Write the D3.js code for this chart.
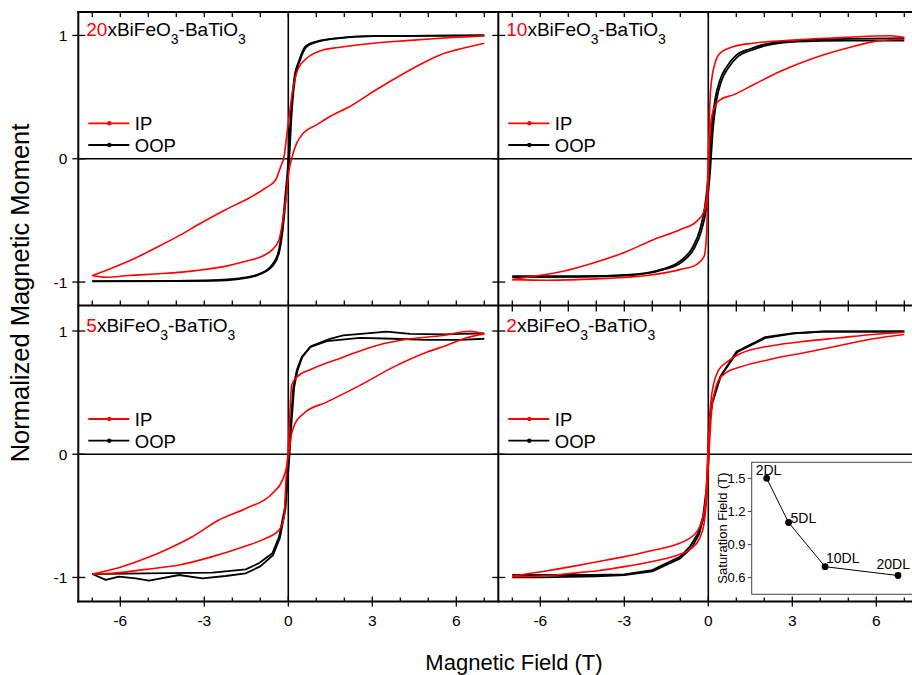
<!DOCTYPE html>
<html><head><meta charset="utf-8">
<script src="https://cdn.jsdelivr.net/npm/d3@7"></script>
<style>body{margin:0;background:#fff} svg{display:block;font-family:"Liberation Sans",Arial,sans-serif}</style>
</head><body><svg id="c" width="912" height="675"></svg>
<script>
// ---------- DATA ([field (T), normalized moment]) ----------
const ip20Desc = [[-7,-0.947],[-6.29,-0.885],[-5.45,-0.804],[-4.62,-0.71],[-3.9,-0.623],[-3.07,-0.515],[-2.24,-0.413],[-1.4,-0.318],[-0.81,-0.237],[-0.45,-0.17],[-0.27,-0.062],[-0.15,0.02],[-0.05,0.2],[0.06,0.40],[0.18,0.585],[0.36,0.734],[0.66,0.815],[1.25,0.883],[1.85,0.904],[3.04,0.937],[4.23,0.958],[5.42,0.977],[7,0.996]];
const ip20Asc = [[-7,-0.947],[-6.52,-0.961],[-5.69,-0.947],[-4.5,-0.931],[-3.31,-0.907],[-2.36,-0.877],[-1.52,-0.831],[-0.93,-0.791],[-0.57,-0.737],[-0.33,-0.656],[-0.21,-0.52],[-0.09,-0.33],[0.03,-0.09],[0.14,0.02],[0.3,0.127],[0.54,0.208],[1.01,0.275],[1.49,0.343],[2.2,0.424],[3.04,0.545],[3.63,0.626],[4.46,0.734],[5.42,0.842],[6.01,0.883],[7,0.937]];
const oop20Desc = [[-7,-0.993],[-4,-0.99],[-2.71,-0.985],[-1.76,-0.97],[-1.05,-0.935],[-0.6,-0.865],[-0.36,-0.76],[-0.24,-0.6],[-0.12,-0.33],[0,-0.01],[0.1,0.4],[0.21,0.65],[0.39,0.8],[0.63,0.915],[1,0.95],[1.85,0.98],[3,0.995],[7,1.0]];
const oop20Asc = [[-7,-0.995],[-4,-0.992],[-2.71,-0.99],[-1.76,-0.975],[-1.05,-0.94],[-0.57,-0.872],[-0.33,-0.764],[-0.21,-0.6],[-0.09,-0.33],[0.03,-0.01],[0.13,0.4],[0.24,0.65],[0.42,0.8],[0.66,0.91],[1,0.945],[1.85,0.978],[3,0.995],[7,1.0]];

const ip10Desc = [[-7,-0.98],[-6.25,-0.953],[-5.18,-0.912],[-4.11,-0.845],[-3.04,-0.764],[-1.96,-0.656],[-1.01,-0.575],[-0.42,-0.508],[-0.18,-0.44],[-0.06,-0.33],[0,-0.01],[0.06,0.478],[0.12,0.64],[0.24,0.775],[0.42,0.856],[0.89,0.909],[1.61,0.937],[3.16,0.964],[4.94,0.985],[6.49,0.998],[7,0.985]];
const ip10Asc = [[-7,-0.98],[-5.77,-0.985],[-3.98,-0.974],[-2.2,-0.947],[-1.01,-0.899],[-0.42,-0.858],[-0.15,-0.791],[-0.06,-0.6],[0,-0.116],[0.06,0.208],[0.18,0.397],[0.42,0.478],[0.89,0.518],[1.61,0.6],[2.56,0.707],[3.75,0.815],[4.94,0.896],[6.13,0.958],[7,0.969]];
const oop10Desc = [[-7,-0.953],[-4.58,-0.953],[-2.8,-0.94],[-1.61,-0.893],[-1.01,-0.831],[-0.54,-0.71],[-0.3,-0.575],[-0.12,-0.386],[0,-0.143],[0.12,0.262],[0.24,0.478],[0.42,0.64],[0.66,0.747],[1.01,0.842],[1.49,0.89],[1.96,0.925],[3.16,0.96],[5,0.972],[7,0.977]];
const oop10Asc = [[-7,-0.96],[-4.58,-0.957],[-2.8,-0.945],[-1.61,-0.9],[-0.96,-0.84],[-0.49,-0.72],[-0.25,-0.585],[-0.07,-0.4],[0.05,-0.15],[0.17,0.25],[0.29,0.47],[0.47,0.63],[0.71,0.735],[1.06,0.83],[1.54,0.88],[2,0.915],[3.2,0.95],[5,0.958],[7,0.958]];

const ip5Desc = [[-7,-0.972],[-6.05,-0.921],[-5.09,-0.845],[-4.38,-0.777],[-3.43,-0.67],[-2.48,-0.534],[-1.52,-0.44],[-0.57,-0.318],[-0.21,-0.21],[-0.04,-0.075],[0.06,0.356],[0.12,0.559],[0.3,0.626],[0.78,0.686],[1.96,0.788],[3.16,0.883],[4.35,0.937],[5.54,0.964],[6.49,0.998],[7,0.977]];
const ip5Asc = [[-7,-0.972],[-6.29,-0.966],[-5.09,-0.934],[-3.9,-0.899],[-2.71,-0.831],[-1.52,-0.745],[-0.81,-0.683],[-0.33,-0.615],[-0.15,-0.508],[-0.07,-0.156],[0.06,0.087],[0.12,0.167],[0.24,0.248],[0.54,0.329],[1.37,0.423],[2.56,0.559],[3.75,0.707],[4.94,0.828],[5.65,0.883],[6.37,0.945],[7,0.977]];
const oop5Desc = [[-7,-0.972],[-5.09,-0.966],[-2.71,-0.961],[-1.52,-0.934],[-1.05,-0.885],[-0.57,-0.804],[-0.33,-0.67],[-0.12,-0.43],[-0.04,-0.156],[0,-0.05],[0.09,0.275],[0.18,0.545],[0.3,0.68],[0.48,0.788],[0.78,0.869],[1.37,0.918],[2.56,0.945],[3.75,0.937],[4.94,0.928],[6.13,0.928],[7,0.937]];
const oop5Asc = [[-7,-0.972],[-6.52,-1.02],[-6.05,-0.993],[-5.45,-1.007],[-4.97,-1.026],[-3.9,-0.98],[-3.07,-1.007],[-2.24,-0.988],[-1.52,-0.966],[-1,-0.91],[-0.55,-0.82],[-0.3,-0.68],[-0.1,-0.44],[-0.01,-0.16],[0.03,-0.05],[0.12,0.275],[0.21,0.545],[0.33,0.68],[0.5,0.79],[0.8,0.875],[1.49,0.937],[1.96,0.964],[2.91,0.982],[3.51,0.995],[4.35,0.977],[5.54,0.972],[6.13,0.977],[7,0.98]];

const ip2Desc = [[-7,-0.988],[-5.96,-0.953],[-4.89,-0.912],[-3.94,-0.872],[-2.99,-0.831],[-2.04,-0.783],[-1.2,-0.737],[-0.73,-0.691],[-0.37,-0.615],[-0.19,-0.508],[-0.07,-0.29],[-0.02,0],[0.03,0.22],[0.08,0.4],[0.18,0.56],[0.36,0.68],[0.66,0.747],[1.13,0.815],[2.32,0.883],[3.51,0.918],[4.7,0.945],[5.89,0.972],[7,0.99]];
const ip2Asc = [[-7,-0.993],[-5.96,-0.988],[-4.89,-0.966],[-3.94,-0.945],[-2.99,-0.912],[-2.04,-0.872],[-1.2,-0.826],[-0.61,-0.764],[-0.31,-0.683],[-0.15,-0.561],[-0.04,-0.29],[0.02,0],[0.06,0.16],[0.12,0.356],[0.24,0.518],[0.36,0.599],[0.66,0.666],[1.13,0.707],[2.32,0.775],[3.51,0.828],[4.7,0.883],[5.89,0.937],[7,0.972]];
const oop2Desc = [[-7,-0.98],[-6,-0.98],[-5,-0.98],[-4,-0.98],[-3,-0.975],[-2,-0.94],[-1,-0.83],[-0.66,-0.75],[-0.37,-0.642],[-0.19,-0.508],[-0.07,-0.29],[0,0],[0.02,0.275],[0.12,0.41],[0.42,0.626],[1.01,0.834],[2.03,0.95],[3.04,0.982],[4.11,0.996],[7,0.996]];
const oop2Asc = [[-7,-1.0],[-6,-1.0],[-5,-0.995],[-4,-0.99],[-3,-0.98],[-2,-0.95],[-1,-0.845],[-0.6,-0.76],[-0.33,-0.65],[-0.16,-0.51],[-0.05,-0.29],[0.02,0],[0.05,0.275],[0.15,0.42],[0.45,0.635],[1.04,0.83],[2.06,0.945],[3.07,0.98],[4.11,0.995],[7,0.996]];

const panelNumbers = ["20","10","5","2"];
const ipSeries  = [[ip20Desc, ip20Asc],[ip10Desc, ip10Asc],[ip5Desc, ip5Asc],[ip2Desc, ip2Asc]];
const oopSeries = [[oop20Desc, oop20Asc],[oop10Desc, oop10Asc],[oop5Desc, oop5Asc],[oop2Desc, oop2Asc]];
const legendNames = ["IP","OOP"];
const xTickLabels = [-6,-3,0,3,6];
const xTickMinor = [-7,-6,-5,-4,-3,-2,-1,0,1,2,3,4,5,6,7];
const yTickValues = [-1,0,1];

const insetLayers = [2,5,10,20];
const insetSatField = [1.5,1.1,0.7,0.62];
const insetLabels = ["2DL","5DL","10DL","20DL"];
const insetYTicks = [0.6,0.9,1.2,1.5];

// ---------- LAYOUT ----------
const RED = "#ff0000";
const svg = d3.select("#c");
const layout = [
  {xr:[78.3,498.3], yr:[305.5,12], yd:[-1.19,1.19], col:0, row:0},
  {xr:[498.3,918.3], yr:[305.5,12], yd:[-1.19,1.19], col:1, row:0},
  {xr:[78.3,498.3], yr:[601.5,305.5], yd:[-1.195,1.207], col:0, row:1},
  {xr:[498.3,918.3], yr:[601.5,305.5], yd:[-1.195,1.207], col:1, row:1}
];
const straightOOP = [false,false,true,true];

layout.forEach((L, i) => {
  const x = d3.scaleLinear().domain([-7.5,7.5]).range(L.xr);
  const y = d3.scaleLinear().domain(L.yd).range(L.yr);
  const g = svg.append("g");
  const clipId = "clip"+i;
  svg.append("clipPath").attr("id",clipId).append("rect")
    .attr("x",L.xr[0]).attr("y",L.yr[1]).attr("width",L.xr[1]-L.xr[0]).attr("height",L.yr[0]-L.yr[1]);

  g.append("line").attr("x1",L.xr[0]).attr("x2",L.xr[1]).attr("y1",y(0)).attr("y2",y(0))
    .attr("stroke","#000").attr("stroke-width",1.6);
  g.append("line").attr("x1",x(0)).attr("x2",x(0)).attr("y1",L.yr[0]).attr("y2",L.yr[1])
    .attr("stroke","#000").attr("stroke-width",1.6);

  const cg = g.append("g").attr("clip-path",`url(#${clipId})`);
  const lineSmooth = d3.line().x(d=>x(d[0])).y(d=>y(d[1])).curve(d3.curveMonotoneX);
  const lineStraight = d3.line().x(d=>x(d[0])).y(d=>y(d[1]));
  oopSeries[i].forEach(br => {
    cg.append("path").attr("d",(straightOOP[i]?lineStraight:lineSmooth)(br))
      .attr("fill","none").attr("stroke","#000").attr("stroke-width",1.8).attr("stroke-linejoin","round");
  });
  ipSeries[i].forEach(br => {
    cg.append("path").attr("d",lineSmooth(br))
      .attr("fill","none").attr("stroke",RED).attr("stroke-width",1.6).attr("stroke-linejoin","round");
  });

  const isTop = L.row===0;
  xTickMinor.forEach(v => {
    const major = xTickLabels.includes(v);
    if (isTop) {
      g.append("line").attr("x1",x(v)).attr("x2",x(v)).attr("y1",L.yr[1]).attr("y2",L.yr[1]+5).attr("stroke","#000").attr("stroke-width",1.3);
      g.append("line").attr("x1",x(v)).attr("x2",x(v)).attr("y1",L.yr[0]-5).attr("y2",L.yr[0]).attr("stroke","#000").attr("stroke-width",1.3);
    } else {
      if (L.col===1) g.append("line").attr("x1",x(v)).attr("x2",x(v)).attr("y1",L.yr[1]).attr("y2",L.yr[1]+6).attr("stroke","#000").attr("stroke-width",1.3);
      g.append("line").attr("x1",x(v)).attr("x2",x(v)).attr("y1",L.yr[0]-(major?5:4)).attr("y2",L.yr[0]+(major?5:0)).attr("stroke","#000").attr("stroke-width",1.3);
    }
  });
  if (!isTop) {
    xTickLabels.forEach(v => {
      g.append("text").attr("x",x(v)).attr("y",L.yr[0]+24).attr("text-anchor","middle")
        .attr("font-size",15.5).text(v);
    });
  }
  yTickValues.forEach(v => {
    g.append("line").attr("x1",L.xr[0]-6).attr("x2",L.xr[0]+7).attr("y1",y(v)).attr("y2",y(v)).attr("stroke","#000").attr("stroke-width",1.3);
    if (L.col===0) {
      g.append("text").attr("x",L.xr[0]-11).attr("y",y(v)+5.5).attr("text-anchor","end")
        .attr("font-size",15.5).text(v);
    }
  });

  const t = g.append("text").attr("x",L.xr[0]+8).attr("y",L.yr[1]+(isTop?24:26)).attr("font-size",19);
  t.append("tspan").attr("fill",RED).text(panelNumbers[i]);
  t.append("tspan").text("xBiFeO");
  t.append("tspan").attr("font-size",14).attr("dy",8).text("3");
  t.append("tspan").attr("dy",-8).text("-BaTiO");
  t.append("tspan").attr("font-size",14).attr("dy",8).text("3");

  const ly0 = L.yr[1] + (isTop?111.3:113.5);
  legendNames.forEach((nm, k) => {
    const ly = ly0 + k*21.7;
    const col = k===0?RED:"#000";
    g.append("line").attr("x1",L.xr[0]+10).attr("x2",L.xr[0]+51).attr("y1",ly).attr("y2",ly)
      .attr("stroke",col).attr("stroke-width",1.8);
    g.append("circle").attr("cx",L.xr[0]+31).attr("cy",ly).attr("r",2.2).attr("fill",col);
    g.append("text").attr("x",L.xr[0]+56.5).attr("y",ly+6.8).attr("font-size",18.5).text(nm);
  });
});

const frame = svg.append("g").attr("stroke","#000").attr("stroke-width",2).attr("fill","none");
frame.append("line").attr("x1",78.3).attr("x2",78.3).attr("y1",11).attr("y2",602.5);
frame.append("line").attr("x1",498.3).attr("x2",498.3).attr("y1",11).attr("y2",602.5);
frame.append("line").attr("x1",77.3).attr("x2",912).attr("y1",12).attr("y2",12);
frame.append("line").attr("x1",77.3).attr("x2",912).attr("y1",305.5).attr("y2",305.5);
frame.append("line").attr("x1",77.3).attr("x2",912).attr("y1",601.5).attr("y2",601.5);

svg.append("text").attr("x",514).attr("y",670).attr("text-anchor","middle").attr("font-size",22).text("Magnetic Field (T)");
svg.append("text").attr("transform","translate(29,293) rotate(-90)").attr("text-anchor","middle")
  .attr("font-size",25.5).text("Normalized Magnetic Moment");

// ---------- INSET ----------
const ix = d3.scaleLinear().domain([0,23]).range([752.1, 919.9]);
const iy = d3.scaleLinear().domain([0.45,1.645]).range([594.3,462.3]);
const ig = svg.append("g");
ig.append("rect").attr("x",751.7).attr("y",462.3).attr("width",180).attr("height",132)
  .attr("fill","#fff").attr("stroke","#444").attr("stroke-width",1);
insetYTicks.forEach(v => {
  ig.append("line").attr("x1",747.7).attr("x2",751.7).attr("y1",iy(v)).attr("y2",iy(v)).attr("stroke","#444");
  ig.append("text").attr("x",745.5).attr("y",iy(v)+4.5).attr("text-anchor","end").attr("font-size",13).text(v.toFixed(1));
});
ig.append("text").attr("transform","translate(727,528) rotate(-90)").attr("text-anchor","middle")
  .attr("font-size",13).text("Saturation Field (T)");
const pts = insetLayers.map((l,k)=>[l, insetSatField[k]]);
ig.append("path").attr("d", d3.line().x(d=>ix(d[0])).y(d=>iy(d[1]))(pts))
  .attr("fill","none").attr("stroke","#000").attr("stroke-width",1);
ig.selectAll("circle.pt").data(pts).enter().append("circle")
  .attr("cx",d=>ix(d[0])).attr("cy",d=>iy(d[1])).attr("r",3.4).attr("fill","#000");
const lblOff = [[-11,-3.5],[2,0.5],[1,-3.5],[-21.5,-6.5]];
insetLabels.forEach((s,k) => {
  ig.append("text").attr("x",ix(insetLayers[k])+lblOff[k][0]).attr("y",iy(insetSatField[k])+lblOff[k][1])
    .attr("font-size",14).text(s);
});
</script></body></html>
